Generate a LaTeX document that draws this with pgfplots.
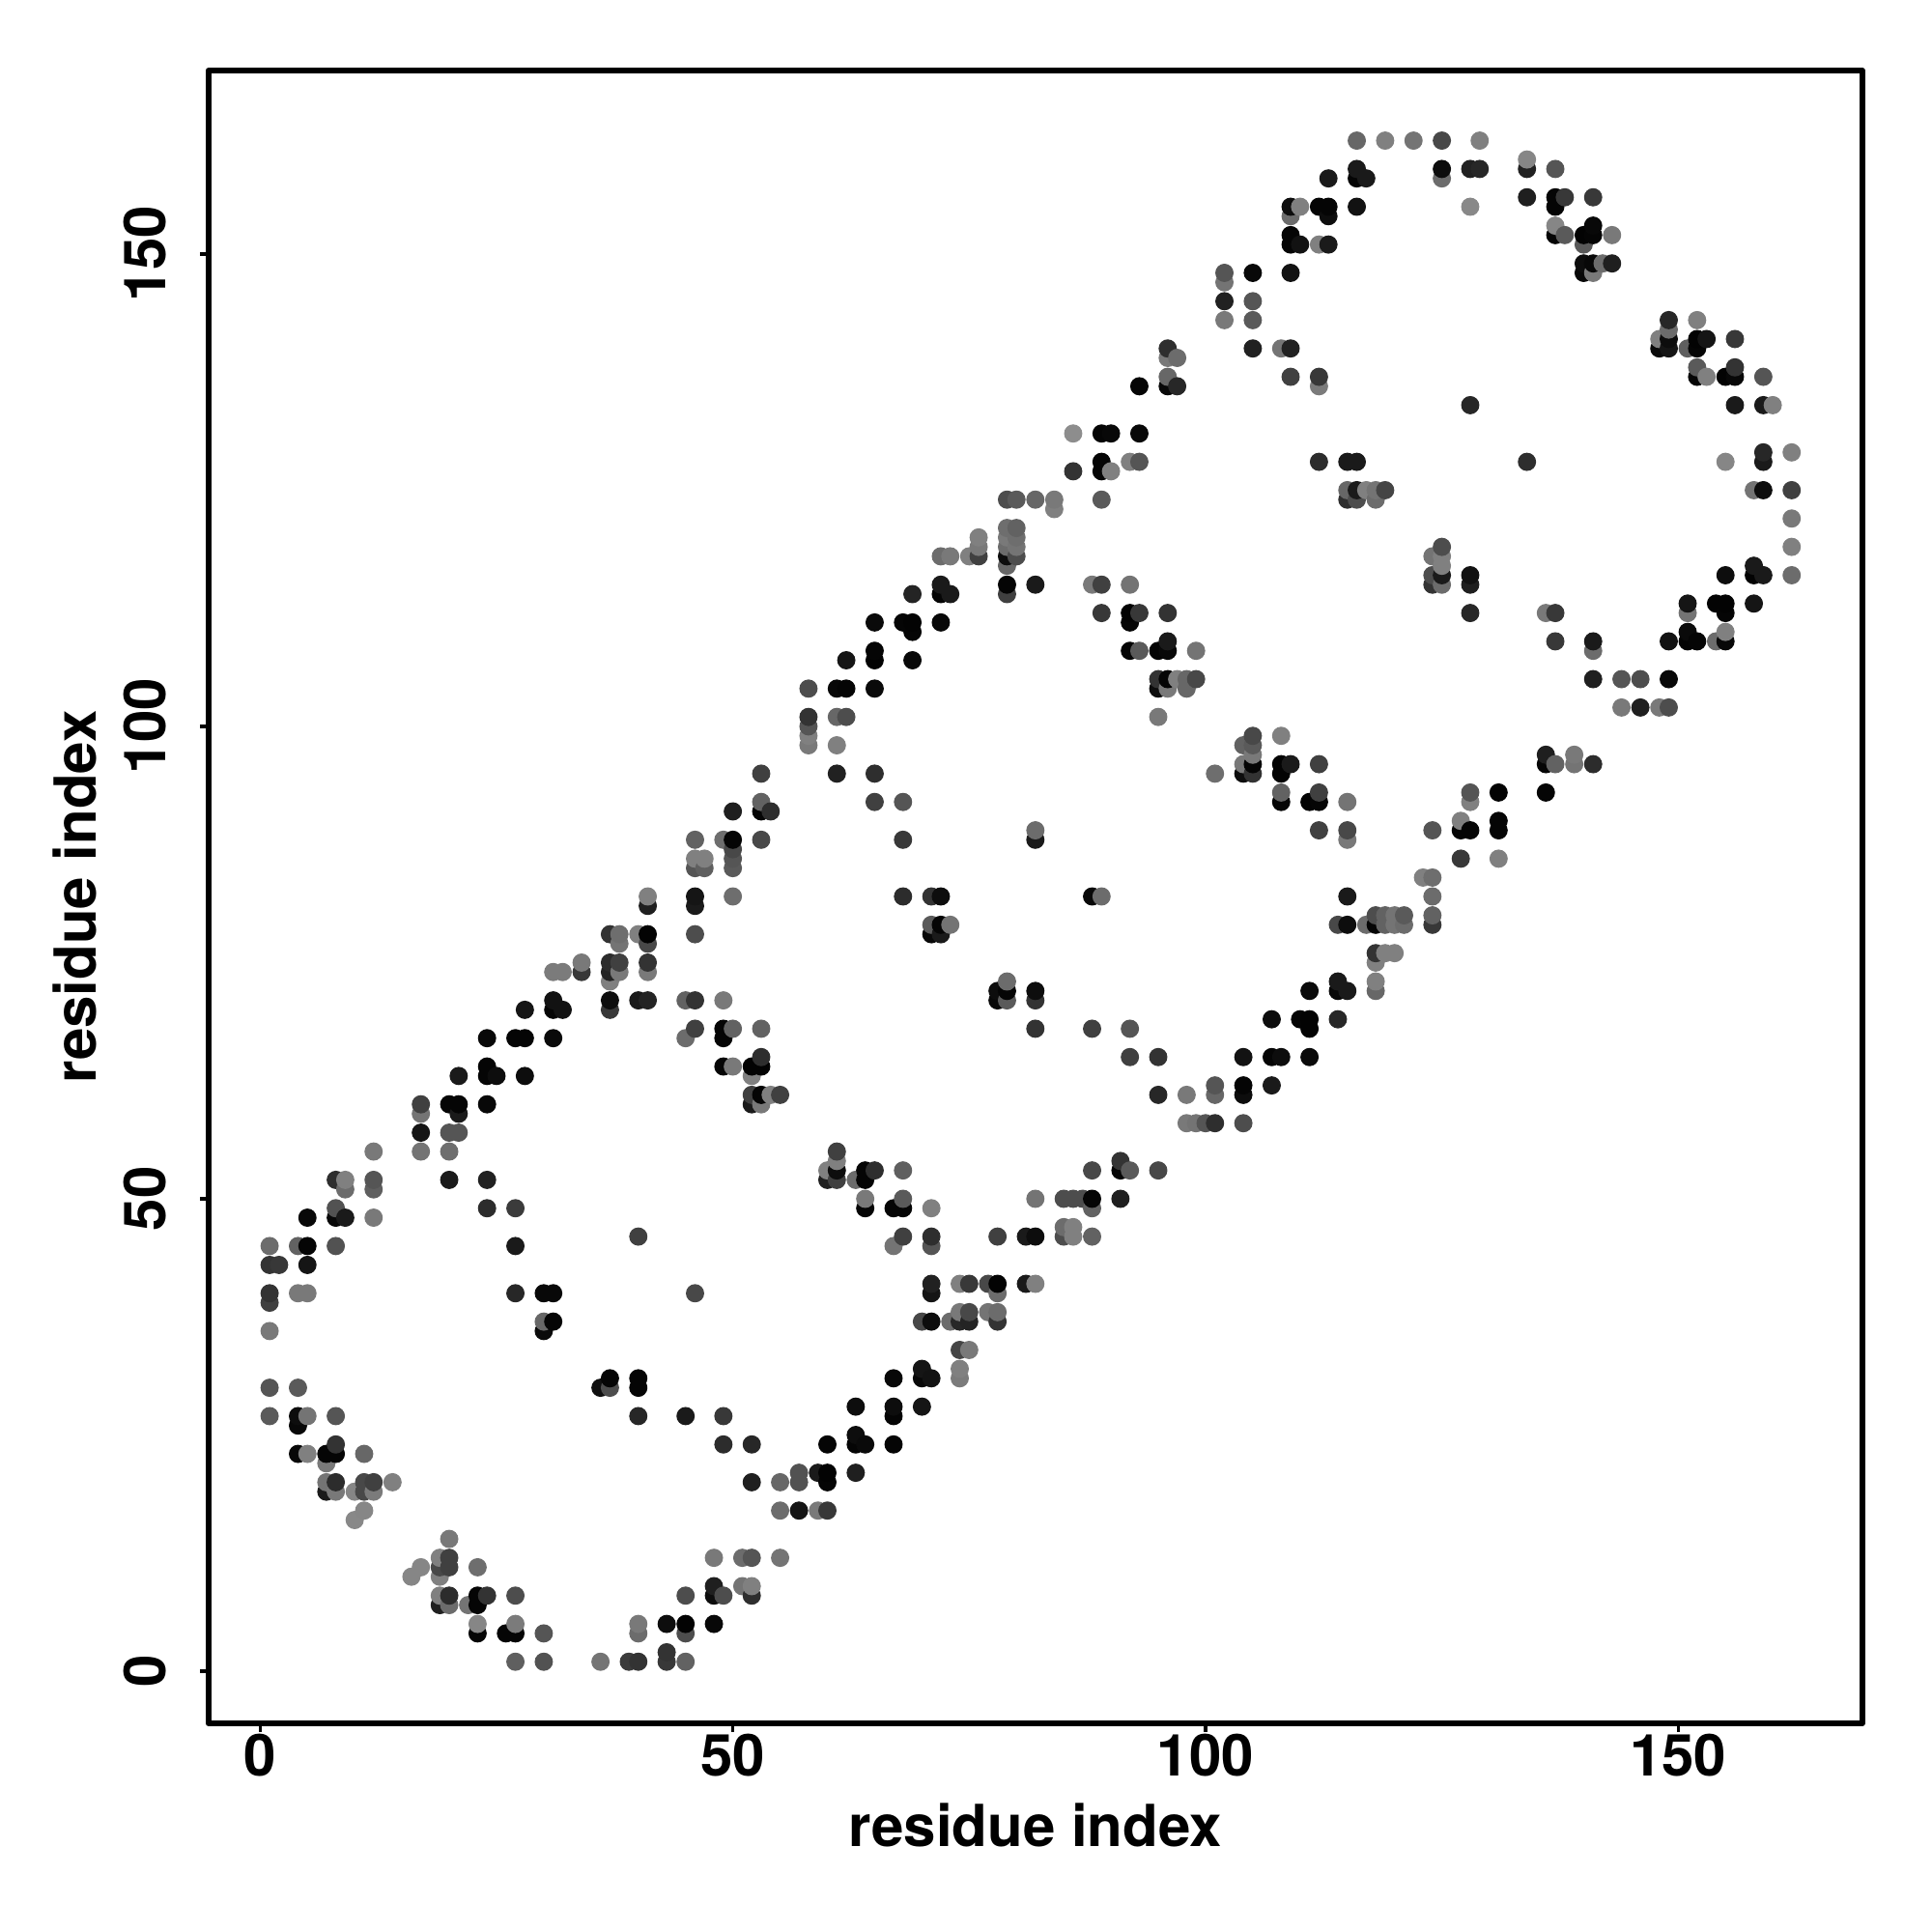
\documentclass[border=0pt]{standalone}
\usepackage{fontspec}
\setmainfont{TeX Gyre Heros}
\usepackage{pgfplots}
\usepackage{pgfplotstable}
\pgfplotsset{compat=1.18}
\pgfplotstableread[row sep=\\]{
x y g\\
27 1 .37\\ 30 1 .32\\ 36 1 .45\\ 39 1 .23\\ 40 1 .2\\ 43 1 .22\\ 45 1 .38\\
43 2 .2\\
23 4 .02\\ 26 4 .02\\ 27 4 .02\\ 30 4 .33\\ 40 4 .42\\ 45 4 .3\\
23 5 .52\\ 27 5 .48\\ 40 5 .47\\ 43 5 .05\\ 45 5 .01\\ 48 5 .03\\
19 7 .12\\ 20 7 .42\\ 22 7 .45\\ 23 7 .02\\
19 8 .5\\ 20 8 .17\\ 23 8 .02\\ 24 8 .2\\ 27 8 .3\\ 45 8 .3\\ 48 8 .05\\ 49 8 .3\\ 52 8 .18\\
48 9 .12\\ 51 9 .45\\ 52 9 .5\\
16 10 .52\\ 19 10 .5\\
17 11 .52\\ 19 11 .28\\ 20 11 .25\\ 23 11 .43\\
19 12 .5\\ 20 12 .25\\ 48 12 .47\\ 51 12 .42\\ 52 12 .33\\ 55 12 .45\\
20 14 .47\\
10 16 .53\\
11 17 .52\\ 55 17 .42\\ 57 17 .08\\ 59 17 .47\\ 60 17 .22\\
7 19 .1\\ 8 19 .47\\ 10 19 .52\\ 11 19 .28\\ 12 19 .48\\
7 20 .45\\ 8 20 .17\\ 11 20 .28\\ 12 20 .25\\ 14 20 .5\\ 52 20 .12\\ 55 20 .4\\ 57 20 .32\\ 60 20 .02\\
57 21 .32\\ 59 21 .1\\ 60 21 .01\\ 63 21 .12\\
7 22 .47\\
4 23 .03\\ 5 23 .5\\ 7 23 .02\\ 8 23 .02\\ 11 23 .4\\
8 24 .2\\ 49 24 .17\\ 52 24 .15\\ 60 24 .02\\ 63 24 .02\\ 64 24 .04\\ 67 24 .02\\
63 25 .05\\
4 26 .03\\
1 27 .35\\ 4 27 .05\\ 5 27 .45\\ 8 27 .33\\ 40 27 .15\\ 45 27 .1\\ 49 27 .22\\ 67 27 .02\\
63 28 .05\\ 67 28 .05\\ 70 28 .08\\
1 30 .33\\ 4 30 .35\\ 36 30 .06\\ 37 30 .3\\ 40 30 .02\\
37 31 .02\\ 40 31 .02\\ 67 31 .03\\ 70 31 .03\\ 71 31 .07\\ 74 31 .48\\
70 32 .08\\ 74 32 .5\\
74 34 .27\\ 75 34 .47\\
1 36 .47\\ 30 36 .04\\
30 37 .4\\ 31 37 .02\\ 70 37 .28\\ 71 37 .05\\ 73 37 .42\\ 74 37 .15\\ 75 37 .14\\ 78 37 .2\\
74 38 .47\\ 75 38 .28\\ 77 38 .45\\ 78 38 .42\\
1 39 .25\\
1 40 .2\\ 4 40 .47\\ 5 40 .47\\ 27 40 .15\\ 30 40 .03\\ 31 40 .03\\ 46 40 .28\\ 71 40 .08\\ 78 40 .42\\
71 41 .13\\ 74 41 .5\\ 75 41 .22\\ 77 41 .28\\ 78 41 .01\\ 81 41 .1\\ 82 41 .5\\
1 43 .2\\ 2 43 .22\\ 5 43 .08\\
1 45 .42\\ 4 45 .38\\ 5 45 .02\\ 8 45 .32\\ 27 45 .1\\ 67 45 .45\\ 71 45 .33\\
40 46 .25\\ 68 46 .25\\ 71 46 .18\\ 78 46 .25\\ 81 46 .1\\ 82 46 .05\\ 85 46 .3\\ 86 46 .5\\ 88 46 .38\\
85 47 .42\\ 86 47 .5\\
5 48 .03\\ 8 48 .03\\ 9 48 .1\\ 12 48 .47\\
8 49 .32\\ 24 49 .17\\ 27 49 .23\\ 64 49 .02\\ 67 49 .02\\ 68 49 .02\\ 71 49 .5\\ 88 49 .38\\
64 50 .47\\ 68 50 .35\\ 82 50 .45\\ 85 50 .3\\ 86 50 .3\\ 87 50 .3\\ 88 50 .02\\ 91 50 .12\\
9 51 .42\\ 12 51 .37\\
8 52 .18\\ 9 52 .5\\ 12 52 .33\\ 20 52 .1\\ 24 52 .13\\ 60 52 .12\\ 61 52 .25\\ 63 52 .42\\ 64 52 .02\\
60 53 .5\\ 61 53 .05\\ 64 53 .02\\ 65 53 .18\\ 68 53 .37\\ 88 53 .28\\ 91 53 .02\\ 92 53 .35\\ 95 53 .28\\
61 54 .5\\ 91 54 .2\\
12 55 .47\\ 17 55 .45\\ 20 55 .43\\ 61 55 .25\\
17 57 .08\\ 20 57 .33\\ 21 57 .33\\
98 58 .47\\ 99 58 .45\\ 100 58 .33\\ 101 58 .18\\ 104 58 .3\\
17 59 .45\\ 21 59 .1\\
17 60 .25\\ 20 60 .02\\ 21 60 .02\\ 24 60 .03\\ 52 60 .1\\ 53 60 .47\\
52 61 .25\\ 53 61 .02\\ 54 61 .5\\ 55 61 .25\\ 95 61 .15\\ 98 61 .47\\ 101 61 .4\\ 104 61 .05\\
101 62 .33\\ 104 62 .02\\ 107 62 .1\\
21 63 .1\\ 24 63 .02\\ 25 63 .05\\ 28 63 .05\\ 52 63 .5\\
24 64 .02\\ 49 64 .02\\ 50 64 .47\\ 52 64 .01\\ 53 64 .01\\
53 65 .18\\ 92 65 .25\\ 95 65 .2\\ 104 65 .07\\ 107 65 .02\\ 108 65 .05\\ 111 65 .04\\
24 67 .03\\ 27 67 .02\\ 28 67 .02\\ 31 67 .04\\ 45 67 .42\\ 49 67 .02\\
46 68 .25\\ 49 68 .02\\ 50 68 .38\\ 53 68 .38\\ 82 68 .2\\ 88 68 .25\\ 92 68 .33\\ 111 68 .01\\
107 69 .05\\ 110 69 .02\\ 111 69 .01\\ 114 69 .15\\
28 70 .08\\ 31 70 .02\\ 32 70 .07\\ 37 70 .22\\
31 71 .07\\ 37 71 .05\\ 40 71 .1\\ 41 71 .14\\ 45 71 .38\\ 46 71 .2\\ 49 71 .47\\ 78 71 .03\\ 79 71 .35\\ 82 71 .2\\
78 72 .05\\ 79 72 .02\\ 82 72 .05\\ 111 72 .04\\ 114 72 .03\\ 115 72 .1\\ 118 72 .4\\
37 73 .5\\ 79 73 .42\\ 114 73 .1\\ 118 73 .5\\
31 74 .48\\ 32 74 .48\\ 34 74 .22\\ 37 74 .14\\ 38 74 .47\\ 41 74 .47\\
34 75 .47\\ 37 75 .17\\ 38 75 .25\\ 41 75 .2\\ 118 75 .5\\
118 76 .2\\ 119 76 .5\\ 120 76 .5\\
38 77 .45\\ 41 77 .28\\
37 78 .2\\ 38 78 .43\\ 40 78 .5\\ 41 78 .01\\ 46 78 .3\\ 71 78 .03\\ 72 78 .1\\
71 79 .35\\ 72 79 .02\\ 73 79 .45\\ 114 79 .28\\ 115 79 .05\\ 117 79 .42\\ 118 79 .02\\ 119 79 .38\\ 120 79 .45\\ 121 79 .42\\ 124 79 .22\\
118 80 .3\\ 119 80 .38\\ 120 80 .45\\ 121 80 .35\\ 124 80 .38\\
41 81 .12\\ 46 81 .1\\
41 82 .5\\ 46 82 .08\\ 50 82 .43\\ 68 82 .17\\ 71 82 .2\\ 72 82 .05\\ 88 82 .03\\ 89 82 .42\\ 115 82 .1\\ 124 82 .42\\
123 84 .5\\ 124 84 .43\\
46 85 .33\\ 47 85 .37\\ 50 85 .35\\
46 86 .5\\ 47 86 .5\\ 50 86 .33\\ 127 86 .22\\ 131 86 .5\\
50 87 .28\\
46 88 .38\\ 49 88 .43\\ 50 88 .02\\ 53 88 .28\\ 68 88 .22\\ 82 88 .1\\ 115 88 .47\\
82 89 .42\\ 112 89 .25\\ 115 89 .28\\ 124 89 .33\\ 127 89 .02\\ 128 89 .02\\ 131 89 .02\\
127 90 .5\\ 131 90 .02\\
50 91 .12\\ 53 91 .02\\ 54 91 .18\\
53 92 .38\\ 65 92 .25\\ 68 92 .33\\ 108 92 .02\\ 111 92 .01\\ 112 92 .02\\ 115 92 .45\\ 128 92 .5\\
108 93 .38\\ 112 93 .25\\ 128 93 .33\\ 131 93 .01\\ 136 93 .02\\
53 95 .25\\ 61 95 .13\\ 65 95 .18\\ 101 95 .43\\ 104 95 .05\\ 105 95 .2\\ 108 95 .01\\
104 96 .47\\ 105 96 .02\\ 108 96 .01\\ 109 96 .1\\ 112 96 .25\\ 136 96 .02\\ 137 96 .38\\ 139 96 .45\\ 141 96 .17\\
105 97 .47\\ 136 97 .12\\ 139 97 .47\\
58 98 .47\\ 61 98 .5\\ 104 98 .38\\ 105 98 .35\\
58 99 .5\\ 105 99 .28\\ 108 99 .5\\
58 100 .33\\
58 101 .2\\ 61 101 .4\\ 62 101 .3\\ 95 101 .47\\
144 102 .47\\ 146 102 .12\\ 148 102 .47\\ 149 102 .3\\
58 104 .3\\ 61 104 .03\\ 62 104 .02\\ 65 104 .04\\ 95 104 .05\\ 96 104 .47\\ 98 104 .4\\
95 105 .2\\ 96 105 .02\\ 97 105 .5\\ 98 105 .4\\ 99 105 .28\\ 141 105 .12\\ 144 105 .33\\ 146 105 .3\\ 149 105 .03\\
62 107 .08\\ 65 107 .01\\ 69 107 .03\\
65 108 .02\\ 92 108 .02\\ 93 108 .35\\ 95 108 .01\\ 96 108 .03\\ 99 108 .45\\ 141 108 .42\\
96 109 .1\\ 137 109 .22\\ 141 109 .1\\ 149 109 .07\\ 151 109 .01\\ 152 109 .02\\ 154 109 .42\\ 155 109 .03\\
69 110 .02\\ 151 110 .04\\ 155 110 .5\\
65 111 .04\\ 68 111 .02\\ 69 111 .01\\ 72 111 .03\\ 92 111 .02\\
89 112 .22\\ 92 112 .01\\ 93 112 .22\\ 96 112 .2\\ 128 112 .15\\ 136 112 .47\\ 137 112 .22\\ 151 112 .45\\ 155 112 .02\\
151 113 .08\\ 154 113 .01\\ 155 113 .01\\ 158 113 .08\\
69 114 .14\\ 72 114 .02\\ 73 114 .1\\ 79 114 .25\\
72 115 .1\\ 79 115 .02\\ 82 115 .1\\ 88 115 .47\\ 89 115 .25\\ 92 115 .45\\ 124 115 .2\\ 125 115 .42\\ 128 115 .12\\
124 116 .3\\ 125 116 .1\\ 128 116 .07\\ 155 116 .05\\ 158 116 .01\\ 159 116 .1\\ 162 116 .42\\
79 117 .4\\ 125 117 .5\\ 158 117 .1\\
72 118 .42\\ 73 118 .47\\ 75 118 .5\\ 76 118 .25\\ 79 118 .05\\ 80 118 .3\\ 124 118 .45\\ 125 118 .5\\
76 119 .47\\ 79 119 .42\\ 80 119 .45\\ 125 119 .3\\ 162 119 .5\\
76 120 .5\\ 79 120 .47\\ 80 120 .43\\
79 121 .43\\ 80 121 .38\\
162 122 .47\\
84 123 .5\\
79 124 .3\\ 80 124 .35\\ 82 124 .4\\ 84 124 .47\\ 89 124 .35\\ 115 124 .18\\ 116 124 .3\\ 118 124 .42\\
115 125 .4\\ 116 125 .1\\ 117 125 .5\\ 118 125 .45\\ 119 125 .27\\ 158 125 .45\\ 159 125 .05\\ 162 125 .25\\
86 127 .2\\ 89 127 .02\\ 90 127 .5\\
89 128 .02\\ 92 128 .5\\ 93 128 .33\\ 112 128 .17\\ 115 128 .1\\ 116 128 .1\\ 134 128 .18\\ 155 128 .52\\ 159 128 .1\\
159 129 .15\\ 162 129 .5\\
86 131 .55\\ 89 131 .02\\ 90 131 .03\\ 93 131 .03\\
128 134 .15\\ 156 134 .1\\ 159 134 .1\\ 160 134 .5\\
93 136 .02\\ 96 136 .03\\ 97 136 .15\\ 112 136 .48\\
96 137 .4\\ 109 137 .25\\ 112 137 .22\\ 152 137 .02\\ 153 137 .5\\ 155 137 .01\\ 156 137 .03\\ 159 137 .33\\
152 138 .35\\ 156 138 .2\\
96 139 .47\\ 97 139 .42\\
96 140 .18\\ 105 140 .13\\ 108 140 .45\\ 109 140 .13\\ 148 140 .04\\ 149 140 .08\\ 151 140 .37\\ 152 140 .02\\
148 141 .5\\ 149 141 .05\\ 152 141 .01\\ 153 141 .08\\ 156 141 .22\\
149 142 .42\\
102 143 .47\\ 105 143 .35\\ 149 143 .15\\ 152 143 .5\\
102 145 .13\\ 105 145 .33\\
102 147 .45\\
102 148 .33\\ 105 148 .03\\ 109 148 .07\\ 140 148 .03\\ 141 148 .47\\
140 149 .05\\ 141 149 .03\\ 142 149 .42\\ 143 149 .12\\
109 151 .02\\ 110 151 .07\\ 112 151 .5\\ 113 151 .1\\ 140 151 .35\\
109 152 .02\\ 137 152 .02\\ 138 152 .35\\ 140 152 .01\\ 141 152 .02\\ 143 152 .47\\
137 153 .52\\ 141 153 .03\\
109 154 .42\\ 113 154 .05\\
109 155 .05\\ 110 155 .5\\ 112 155 .02\\ 113 155 .02\\ 116 155 .07\\ 128 155 .53\\ 137 155 .02\\
134 156 .12\\ 137 156 .02\\ 138 156 .22\\ 141 156 .22\\
113 158 .1\\ 116 158 .02\\ 117 158 .1\\ 125 158 .42\\
116 159 .1\\ 125 159 .05\\ 128 159 .13\\ 129 159 .15\\ 134 159 .13\\ 137 159 .33\\
134 160 .52\\
116 162 .4\\ 119 162 .5\\ 122 162 .45\\ 125 162 .28\\ 129 162 .5\\
}\contacts
% drawing order as in the original: by x, then by y
\pgfplotstablecreatecol[create col/expr={\thisrow{x}*1000+\thisrow{y}}]{k}{\contacts}
\pgfplotstablesort[sort key=k]{\sortedcontacts}{\contacts}
\begin{document}
\begin{tikzpicture}
\path[use as bounding box] (-77.65pt,-77.76pt) rectangle ++(720pt,720pt);
\begin{axis}[
  at={(0pt,0pt)}, anchor=south west,
  scale only axis, width=616.4pt, height=615.96pt,
  xmin=-5.48, xmax=169.48, ymin=-5.52, ymax=169.42,
  axis line style={line width=2.1pt, black, line join=round},
  xtick={0,50,100,150}, ytick={0,50,100,150},
  xtick pos=bottom, ytick pos=left, tick align=outside,
  major tick length=3.1pt,
  tick style={black, line width=1.2pt},
  minor tick num=0,
  font=\fontsize{21.6}{25}\selectfont\bfseries,
  /pgf/number format/assume math mode=true,
  /pgf/number format/fixed,
  xticklabel style={inner sep=1pt, outer sep=0pt, anchor=north},
  yticklabel style={rotate=90, anchor=south, inner sep=0pt, outer sep=0pt, yshift=12.6pt},
  xlabel={residue index}, ylabel={residue index},
  xlabel style={at={(axis description cs:0.5,0)}, anchor=base, yshift=-46pt},
  ylabel style={at={(axis description cs:0,0.5)}, anchor=base, yshift=42pt},
  colormap={grayramp}{gray(0cm)=(0); gray(1cm)=(1)},
  point meta min=0, point meta max=1,
]
\addplot[scatter, only marks, mark=*, mark size=3.2pt, scatter src=explicit,
  scatter/use mapped color={draw=mapped color, fill=mapped color}]
  table[x=x, y=y, meta=g] {\sortedcontacts};
\end{axis}
\end{tikzpicture}
\end{document}
